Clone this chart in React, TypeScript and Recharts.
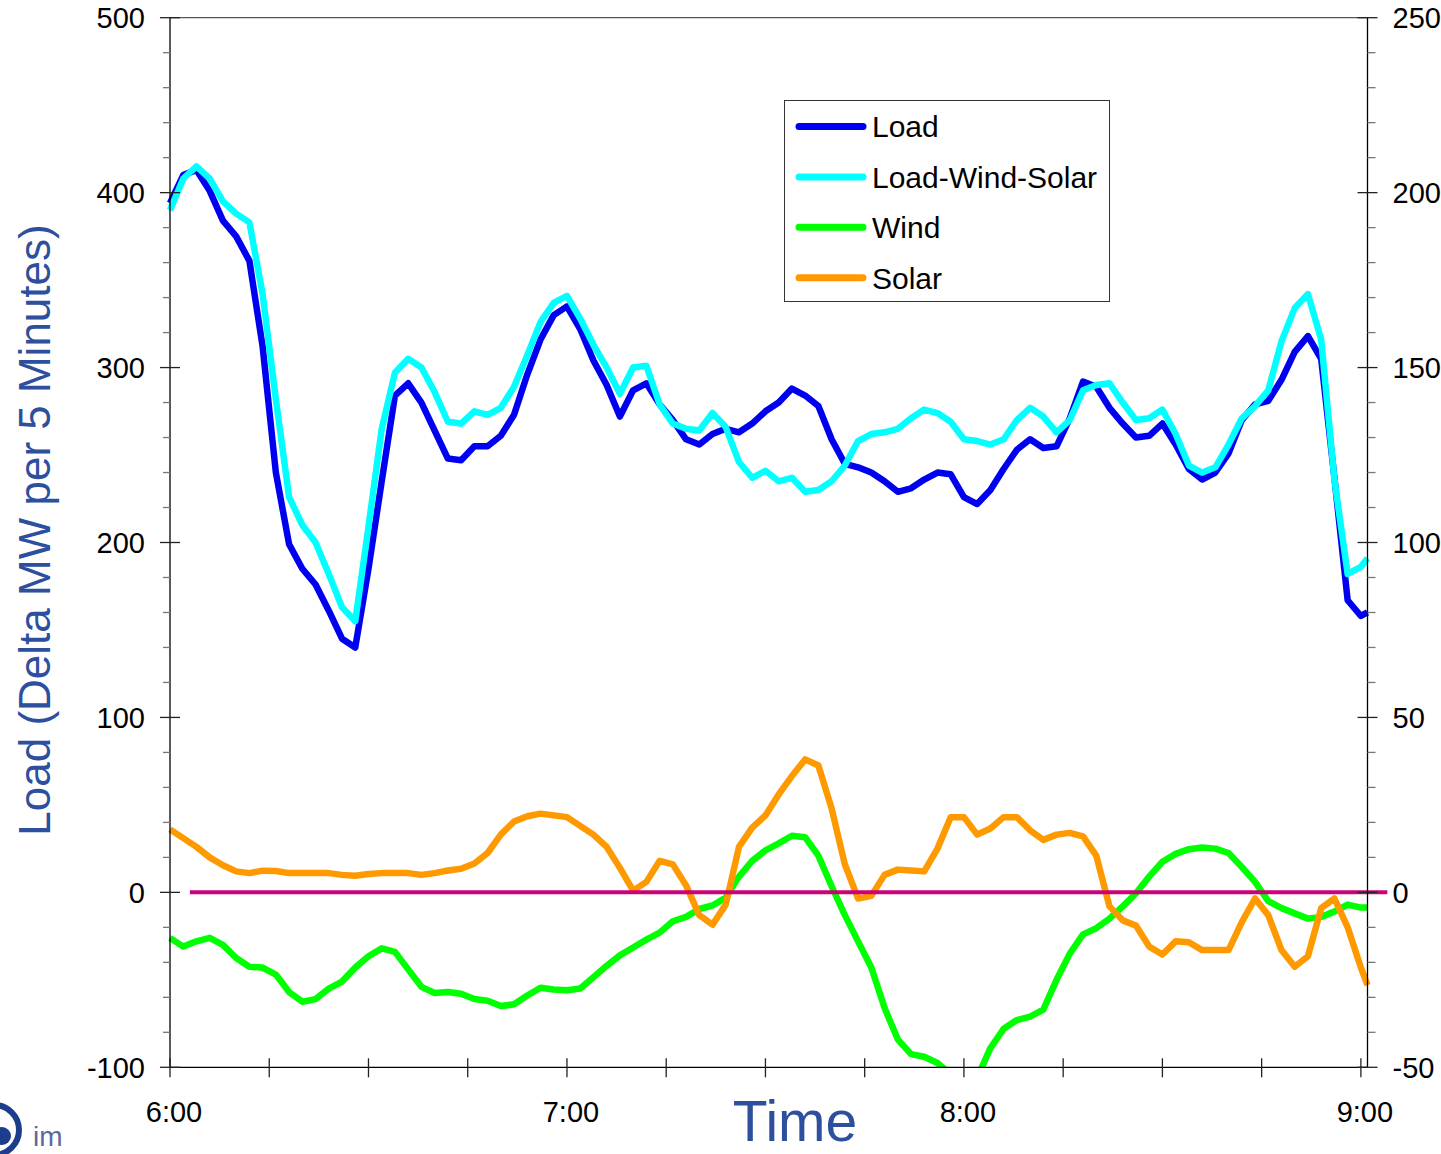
import { LineChart, Line, XAxis, YAxis, ReferenceLine, Legend } from 'recharts'

const FONT = "'Liberation Sans', Arial, Helvetica, sans-serif"
const TITLE_BLUE = '#2d4f9e'

// minutes after 6:00
const minutes = [
  0, 2, 4, 6, 8, 10, 12, 14, 16, 18, 20, 22, 24, 26, 28, 30, 32, 34, 36, 38,
  40, 42, 44, 46, 48, 50, 52, 54, 56, 58, 60, 62, 64, 66, 68, 70, 72, 74, 76, 78,
  80, 82, 84, 86, 88, 90, 92, 94, 96, 98, 100, 102, 104, 106, 108, 110, 112, 114, 116, 118,
  120, 122, 124, 126, 128, 130, 132, 134, 136, 138, 140, 142, 144, 146, 148, 150, 152, 154, 156, 158,
  160, 162, 164, 166, 168, 170, 172, 174, 176, 178, 180, 181,
]

const loadMw = [
  394, 410, 413, 401, 384, 375, 361, 312, 240, 199,
  185, 176, 161, 145, 140, 185, 235, 284, 291, 280,
  264, 248, 247, 255, 255, 261, 273, 296, 316, 330,
  335, 322, 304, 290, 272, 287, 291, 279, 270, 259,
  256, 262, 265, 263, 268, 275, 280, 288, 284, 278,
  259, 245, 243, 240, 235, 229, 231, 236, 240, 239,
  226, 222, 230, 242, 253, 259, 254, 255, 271, 292,
  289, 277, 268, 260, 261, 268, 256, 242, 236, 240,
  251, 270, 279, 281, 293, 309, 318, 305, 237, 167,
  158, 160,
]

const netLoadMw = [
  390, 408, 415, 408, 395, 388, 383, 342, 282, 226,
  210, 200, 182, 163, 155, 209, 265, 297, 305, 300,
  286, 269, 268, 275, 273, 277, 289, 307, 326, 337,
  341, 328, 313, 300, 285, 300, 301, 279, 268, 265,
  264, 274, 266, 246, 237, 241, 235, 237, 229, 230,
  235, 244, 258, 262, 263, 265, 271, 276, 274, 269,
  259, 258, 256, 259, 270, 277, 272, 263, 270, 287,
  290, 291, 280, 270, 271, 276, 262, 244, 240, 243,
  256, 271, 278, 287, 315, 334, 342, 316, 236, 182,
  186, 191,
]

const windMw = [
  -26, -31, -28, -26, -30, -37.5, -42.5, -43, -47, -57,
  -62.5, -61, -55, -51, -43, -36.5, -32, -34, -44, -54,
  -57.5, -57, -58, -61, -62, -65, -64, -59, -54.5, -55.5,
  -56, -55, -48.5, -42, -36, -31.5, -27, -23, -16.5, -14,
  -9.5, -7.5, -3, 9, 18, 24, 28, 32.4, 31.5, 21,
  3.5, -13, -28, -43, -66, -84, -92.5, -94, -97.5, -104,
  -112, -106, -89, -78, -73, -71, -67, -50, -35, -24,
  -20.5, -15, -8, -0.5, 9, 17.5, 22, 24.7, 25.6, 25,
  22.5, 14.5, 6, -5, -9, -12, -15, -14, -11, -7,
  -8.7, -8.7,
]

const solarMw = [
  36, 31, 26, 20, 15.5, 12, 11, 12.4, 12.2, 11,
  11, 11, 11, 10, 9.5, 10.5, 11, 11, 11, 10,
  11, 12.5, 13.5, 16.5, 22.5, 33, 40.5, 43.5, 45, 44,
  43, 38, 33, 26, 14, 1, 6, 18, 16, 4,
  -13, -18.5, -7, 26, 37, 44, 56, 66.5, 76, 72.5,
  48, 16, -3.5, -2, 10, 13, 12.5, 12, 25, 43,
  43, 33, 36.5, 43, 43, 35.5, 30, 33, 34, 32,
  21, -8, -16, -19, -31, -35.5, -28, -28.5, -33, -33,
  -33, -17, -3.5, -13, -33, -42.5, -36.5, -9, -3.5, -20,
  -43, -53,
]

const seriesKeys = ['load', 'net', 'wind', 'solar']
const seriesNames = ['Load', 'Load-Wind-Solar', 'Wind', 'Solar']
const seriesColors = ['#0000f0', '#00ffff', '#00ff00', '#ff9900']

const leftTicks = [
  -100, -80, -60, -40, -20, 0, 20, 40, 60, 80, 100, 120, 140, 160, 180, 200,
  220, 240, 260, 280, 300, 320, 340, 360, 380, 400, 420, 440, 460, 480, 500,
]
const rightTicks = [
  -50, -40, -30, -20, -10, 0, 10, 20, 30, 40, 50, 60, 70, 80, 90, 100,
  110, 120, 130, 140, 150, 160, 170, 180, 190, 200, 210, 220, 230, 240, 250,
]
const timeTicks = [0, 15, 30, 45, 60, 75, 90, 105, 120, 135, 150, 165, 180]
const hourLabels = ['6:00', '7:00', '8:00', '9:00']

const data = minutes.map((m, i) => ({
  minute: m,
  load: loadMw[i],
  net: netLoadMw[i],
  wind: windMw[i],
  solar: solarMw[i],
}))

function LeftTick(props: any) {
  const { x, y, payload } = props
  const major = payload.value % 100 === 0
  return (
    <g>
      <line
        x1={major ? x - 10 : x - 7}
        x2={major ? x + 10 : x}
        y1={y}
        y2={y}
        stroke={major ? '#222' : '#777'}
        strokeWidth={1.3}
      />
      {major && (
        <text x={x - 25} y={y} dy="0.36em" textAnchor="end" fontSize={29} fontFamily={FONT} fill="#000">
          {payload.value}
        </text>
      )}
    </g>
  )
}

function RightTick(props: any) {
  const { x, y, payload } = props
  const major = payload.value % 50 === 0
  return (
    <g>
      <line
        x1={major ? x - 10 : x}
        x2={major ? x + 10 : x + 8}
        y1={y}
        y2={y}
        stroke={major ? '#222' : '#777'}
        strokeWidth={1.3}
      />
      {major && (
        <text x={x + 25} y={y} dy="0.36em" textAnchor="start" fontSize={29} fontFamily={FONT} fill="#000">
          {payload.value}
        </text>
      )}
    </g>
  )
}

function TimeTick(props: any) {
  const { x, y, payload } = props
  const v = payload.value
  const label = v % 60 === 0 ? hourLabels[v / 60] : null
  return (
    <g>
      <line x1={x} x2={x} y1={y - 9} y2={y + 10} stroke="#222" strokeWidth={1.3} />
      {label && (
        <text x={x + 4} y={y + 44} dy="0.36em" textAnchor="middle" fontSize={29} fontFamily={FONT} fill="#000">
          {label}
        </text>
      )}
    </g>
  )
}

function LoadTitle() {
  return (
    <text
      transform="translate(50, 530) rotate(-90)"
      textAnchor="middle"
      fontSize={44}
      fontFamily={FONT}
      fill={TITLE_BLUE}
    >
      Load (Delta MW per 5 Minutes)
    </text>
  )
}

function TimeTitle() {
  return (
    <text x={795} y={1141} textAnchor="middle" fontSize={57} fontFamily={FONT} fill={TITLE_BLUE}>
      Time
    </text>
  )
}

function LegendBox() {
  return (
    <svg width={326} height={202} style={{ display: 'block' }}>
      <rect x={0.5} y={0.5} width={325} height={201} fill="#fff" stroke="#333" strokeWidth={1} />
      {seriesNames.map((name, i) => {
        const cy = 26.5 + i * 50.4
        return (
          <g key={name}>
            <line x1={15} x2={79} y1={cy} y2={cy} stroke={seriesColors[i]} strokeWidth={7} strokeLinecap="round" />
            <text x={88} y={cy} dy="0.36em" fontSize={30} fontFamily={FONT} fill="#000">
              {name}
            </text>
          </g>
        )
      })}
    </svg>
  )
}

export default function App() {
  return (
    <div style={{ position: 'absolute', left: 0, top: 0, width: 1441, height: 1154, overflow: 'hidden', background: '#fff' }}>
      <LineChart width={1441} height={1154} data={data} margin={{ top: 17.7, right: 0, bottom: 0, left: 0 }}>
        <XAxis
          dataKey="minute"
          type="number"
          domain={[0, 181]}
          ticks={timeTicks}
          interval={0}
          height={86.7}
          tickSize={0}
          tickMargin={0}
          tickLine={false}
          tick={TimeTick}
          axisLine={{ stroke: '#000', strokeWidth: 1.3 }}
          label={<TimeTitle />}
        />
        <YAxis
          yAxisId="left"
          type="number"
          domain={[-100, 500]}
          allowDataOverflow
          ticks={leftTicks}
          interval={0}
          width={170}
          tickSize={0}
          tickMargin={0}
          tickLine={false}
          tick={LeftTick}
          axisLine={{ stroke: '#000', strokeWidth: 1.3 }}
          label={<LoadTitle />}
        />
        <YAxis
          yAxisId="right"
          orientation="right"
          type="number"
          domain={[-50, 250]}
          allowDataOverflow
          ticks={rightTicks}
          interval={0}
          width={73.5}
          tickSize={0}
          tickMargin={0}
          tickLine={false}
          tick={RightTick}
          axisLine={{ stroke: '#000', strokeWidth: 1.3 }}
        />
        <ReferenceLine yAxisId="left" y={500} stroke="#555" strokeWidth={1.3} />
        {seriesKeys.map((key, i) => (
          <Line
            key={key}
            yAxisId="left"
            type="linear"
            dataKey={key}
            name={seriesNames[i]}
            stroke={seriesColors[i]}
            strokeWidth={6.5}
            strokeLinejoin="round"
            dot={false}
            activeDot={false}
            isAnimationActive={false}
          />
        ))}
        <ReferenceLine
          yAxisId="left"
          segment={[{ x: 3, y: 0 }, { x: 184, y: 0 }]}
          ifOverflow="visible"
          stroke="#cc0077"
          strokeWidth={4}
        />
        <Legend
          layout="horizontal"
          align="center"
          verticalAlign="middle"
          content={() => <LegendBox />}
          wrapperStyle={{ left: 784, top: 100, width: 326, height: 202 }}
        />
      </LineChart>
      <svg width={70} height={70} style={{ position: 'absolute', left: 0, top: 1084 }}>
        <circle cx={-6} cy={46} r={25} fill="#fff" stroke="#1c3d8c" strokeWidth={6} />
        <circle cx={2} cy={52} r={9} fill="#1c3d8c" />
        <text x={33} y={62} fontSize={28} fontFamily={FONT} fill="#5b6b9a">
          im
        </text>
      </svg>
    </div>
  )
}
